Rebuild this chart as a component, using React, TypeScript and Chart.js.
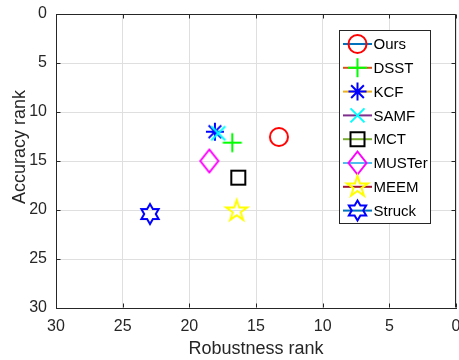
import React, { useEffect, useRef } from "react";
import { Chart, registerables } from "chart.js";

Chart.register(...registerables);

const trackers = ["Ours", "DSST", "KCF", "SAMF", "MCT", "MUSTer", "MEEM", "Struck"];
const robustnessRank = [13.28, 16.78, 18.08, 17.83, 16.33, 18.5, 16.45, 22.95];
const accuracyRank = [12.55, 13.13, 12.01, 12.17, 16.7, 15.0, 20.1, 20.41];
const markerColors = ["#ff0000", "#00ff00", "#0000ff", "#00ffff", "#000000", "#ff00ff", "#ffff00", "#0000ff"];
const lineColors = ["#0072bd", "#d95319", "#edb120", "#7e2f8e", "#77ac30", "#4dbeee", "#a2142f", "#0072bd"];
const markerShapes = ["circle", "plus", "asterisk", "x", "square", "diamond", "pentagram", "hexagram"];
const xTitle = "Robustness rank";
const yTitle = "Accuracy rank";
const axisMin = 0;
const axisMax = 30;
const axisStep = 5;

const FONT = '"Liberation Sans", Arial, Helvetica, sans-serif';
const AXIS_COLOR = "#262626";

function drawMarker(ctx: CanvasRenderingContext2D, shape: string, cx: number, cy: number, color: string) {
  ctx.save();
  ctx.strokeStyle = color;
  ctx.lineWidth = 2;
  ctx.lineJoin = "miter";
  ctx.beginPath();
  switch (shape) {
    case "circle":
      ctx.arc(cx, cy, 9, 0, Math.PI * 2);
      break;
    case "plus":
      ctx.moveTo(cx - 9.5, cy);
      ctx.lineTo(cx + 9.5, cy);
      ctx.moveTo(cx, cy - 9.5);
      ctx.lineTo(cx, cy + 9.5);
      break;
    case "asterisk":
      for (let i = 0; i < 4; i++) {
        const a = (i * Math.PI) / 4;
        const dx = Math.cos(a) * 9;
        const dy = Math.sin(a) * 9;
        ctx.moveTo(cx - dx, cy - dy);
        ctx.lineTo(cx + dx, cy + dy);
      }
      break;
    case "x":
      ctx.moveTo(cx - 7, cy - 7);
      ctx.lineTo(cx + 7, cy + 7);
      ctx.moveTo(cx + 7, cy - 7);
      ctx.lineTo(cx - 7, cy + 7);
      break;
    case "square":
      ctx.rect(cx - 7, cy - 7, 14, 14);
      break;
    case "diamond":
      ctx.moveTo(cx, cy - 11.5);
      ctx.lineTo(cx + 9, cy);
      ctx.lineTo(cx, cy + 11.5);
      ctx.lineTo(cx - 9, cy);
      ctx.closePath();
      break;
    case "pentagram": {
      const R = 11;
      const r = R * 0.382;
      for (let i = 0; i < 10; i++) {
        const a = -Math.PI / 2 + (i * Math.PI) / 5;
        const rad = i % 2 === 0 ? R : r;
        const px = cx + Math.cos(a) * rad;
        const py = cy + Math.sin(a) * rad;
        if (i === 0) ctx.moveTo(px, py);
        else ctx.lineTo(px, py);
      }
      ctx.closePath();
      break;
    }
    case "hexagram": {
      const R = 10;
      const r = R / Math.sqrt(3);
      for (let i = 0; i < 12; i++) {
        const a = -Math.PI / 2 + (i * Math.PI) / 6;
        const rad = i % 2 === 0 ? R : r;
        const px = cx + Math.cos(a) * rad;
        const py = cy + Math.sin(a) * rad;
        if (i === 0) ctx.moveTo(px, py);
        else ctx.lineTo(px, py);
      }
      ctx.closePath();
      break;
    }
  }
  ctx.stroke();
  ctx.restore();
}

function makeMarkerCanvas(shape: string, color: string): HTMLCanvasElement {
  const c = document.createElement("canvas");
  c.width = 30;
  c.height = 30;
  const ctx = c.getContext("2d")!;
  drawMarker(ctx, shape, 15, 15, color);
  return c;
}

const decorPlugin = {
  id: "matlabDecor",
  afterDraw(chart: any) {
    const ctx: CanvasRenderingContext2D = chart.ctx;
    const area = chart.chartArea;
    const xs = chart.scales.x;
    const ys = chart.scales.y;
    ctx.save();
    ctx.strokeStyle = AXIS_COLOR;
    ctx.lineWidth = 1;
    const L = Math.round(area.left) + 0.5;
    const R = Math.round(area.right) - 0.5;
    const T = Math.round(area.top) + 0.5;
    const B = Math.round(area.bottom) - 0.5;
    ctx.beginPath();
    ctx.moveTo(L, T);
    ctx.lineTo(R, T);
    ctx.lineTo(R, B);
    ctx.stroke();
    ctx.beginPath();
    for (let v = axisMin; v <= axisMax; v += axisStep) {
      const px = Math.round(xs.getPixelForValue(v)) + 0.5;
      ctx.moveTo(px, B);
      ctx.lineTo(px, B - 4);
      ctx.moveTo(px, T);
      ctx.lineTo(px, T + 4);
      const py = Math.round(ys.getPixelForValue(v)) + 0.5;
      ctx.moveTo(L, py);
      ctx.lineTo(L + 4, py);
      ctx.moveTo(R, py);
      ctx.lineTo(R - 4, py);
    }
    ctx.stroke();

    ctx.fillStyle = AXIS_COLOR;
    ctx.font = `18px ${FONT}`;
    ctx.textAlign = "center";
    ctx.textBaseline = "middle";
    ctx.translate(20, 147);
    ctx.rotate(-Math.PI / 2);
    ctx.fillText(yTitle, 0, 0);
    ctx.setTransform(1, 0, 0, 1, 0, 0);

    const bx = 339.5;
    const by = 30.5;
    const bw = 91;
    const bh = 193;
    ctx.fillStyle = "#ffffff";
    ctx.fillRect(bx, by, bw, bh);
    ctx.strokeStyle = AXIS_COLOR;
    ctx.lineWidth = 1;
    ctx.strokeRect(bx, by, bw, bh);
    const rowStep = 23.8;
    const firstY = 44;
    ctx.font = `15px ${FONT}`;
    ctx.textAlign = "left";
    ctx.textBaseline = "middle";
    trackers.forEach((name, i) => {
      const ry = firstY + i * rowStep;
      ctx.strokeStyle = lineColors[i];
      ctx.lineWidth = 2;
      ctx.beginPath();
      ctx.moveTo(343, ry);
      ctx.lineTo(372, ry);
      ctx.stroke();
      drawMarker(ctx, markerShapes[i], 357.5, ry, markerColors[i]);
      ctx.fillStyle = "#000000";
      ctx.fillText(name, 373.5, ry + 1);
    });
    ctx.restore();
  },
};

export default function App() {
  const ref = useRef<HTMLCanvasElement | null>(null);

  useEffect(() => {
    if (!ref.current) return;
    const datasets = trackers.map((name, i) => ({
      label: name,
      order: -i,
      data: [{ x: robustnessRank[i], y: accuracyRank[i] }],
      pointStyle: makeMarkerCanvas(markerShapes[i], markerColors[i]) as any,
      pointRadius: 0.5,
      pointHoverRadius: 0,
      pointBorderWidth: 0,
      showLine: false,
      borderColor: markerColors[i],
      backgroundColor: "transparent",
    }));

    const chart = new Chart(ref.current, {
      type: "scatter",
      data: { datasets },
      options: {
        animation: false,
        responsive: false,
        devicePixelRatio: 1,
        layout: { padding: { top: 14, right: 3, left: 0, bottom: 0 } },
        plugins: { legend: { display: false }, tooltip: { enabled: false } },
        scales: {
          x: {
            type: "linear",
            min: axisMin,
            max: axisMax,
            reverse: true,
            position: "bottom",
            grid: { color: "#dfdfdf", drawTicks: false, lineWidth: 1 },
            border: { display: true, color: AXIS_COLOR, width: 1 },
            ticks: {
              stepSize: axisStep,
              color: AXIS_COLOR,
              font: { family: FONT, size: 16 },
              padding: 9,
              maxRotation: 0,
            },
            title: {
              display: true,
              text: xTitle,
              color: AXIS_COLOR,
              font: { family: FONT, size: 18 },
              padding: { top: 0, bottom: 0 },
            },
            afterFit: (scale: any) => {
              scale.height = 52;
              scale.paddingLeft = 0;
              scale.paddingRight = 0;
            },
          },
          y: {
            type: "linear",
            min: axisMin,
            max: axisMax,
            reverse: true,
            grid: { color: "#dfdfdf", drawTicks: false, lineWidth: 1 },
            border: { display: true, color: AXIS_COLOR, width: 1 },
            ticks: {
              stepSize: axisStep,
              color: AXIS_COLOR,
              font: { family: FONT, size: 16 },
              padding: 9,
            },
            afterFit: (scale: any) => {
              scale.width = 56;
              scale.paddingTop = 0;
              scale.paddingBottom = 0;
            },
          },
        },
      },
      plugins: [decorPlugin],
    });
    return () => chart.destroy();
  }, []);

  return (
    <div style={{ position: "fixed", left: 0, top: 0, width: 459, height: 360, background: "#fff" }}>
      <canvas ref={ref} width={459} height={360} style={{ display: "block", width: 459, height: 360 }} />
    </div>
  );
}
